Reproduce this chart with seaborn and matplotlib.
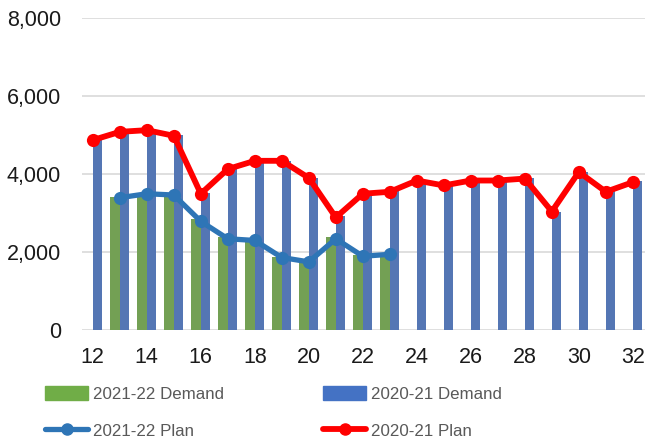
"""Weekly demand vs plan, 2020-21 and 2021-22"""

import pandas as pd
import numpy as np
import matplotlib
matplotlib.use('Agg')
import matplotlib.pyplot as plt
import seaborn as sns
from matplotlib.patches import Patch
from matplotlib.lines import Line2D

# Data
weeks = list(range(12, 33))
demand_2021_22 = [np.nan, 3410, 3450, 3410, 2845, 2380, 2253, 1873, 1706, 2380, 1916, 1916,
                  np.nan, np.nan, np.nan, np.nan, np.nan, np.nan, np.nan, np.nan, np.nan]
demand_2020_21 = [4900, 5080, 5120, 4990, 3519, 4119, 4290, 4330, 3899, 2929, 3435, 3562,
                  3772, 3689, 3772, 3850, 3899, 3013, 4051, 3562, 3815]
plan_2021_22 = [np.nan, 3392, 3494, 3461, 2785, 2339, 2296, 1858, 1747, 2339, 1891, 1941,
                np.nan, np.nan, np.nan, np.nan, np.nan, np.nan, np.nan, np.nan, np.nan]
plan_2020_21 = [4870, 5081, 5124, 4980, 3494, 4127, 4338, 4338, 3899, 2886, 3494, 3544,
                3833, 3706, 3833, 3833, 3883, 3038, 4051, 3544, 3790]
xtick_labels = list(range(12, 33, 2))
ytick_values = [0, 2000, 4000, 6000, 8000]

GREEN = '#70AD47'
BLUE_BAR = '#4472C4'
BLUE_LINE = '#2E75B6'
RED = '#FF0000'
GRID = '#D9D9D9'

sns.set_theme(style='white')
plt.rcParams['font.family'] = ['Liberation Sans', 'DejaVu Sans']

# Long table for the bars
bars = pd.DataFrame({
    'week': weeks * 2,
    'value': demand_2021_22 + demand_2020_21,
    'series': ['2021-22 Demand'] * len(weeks) + ['2020-21 Demand'] * len(weeks),
})
lines = pd.DataFrame({
    'week': weeks,
    'plan_2021_22': plan_2021_22,
    'plan_2020_21': plan_2020_21,
})

fig = plt.figure(figsize=(6.47, 4.40), dpi=100)
ax = fig.add_axes([82 / 647, 110 / 440, 563 / 647, 312 / 440])

# Grid behind everything
for v in ytick_values:
    ax.axhline(v, color=GRID, lw=1.2, zorder=0)

sns.barplot(
    data=bars, x='week', y='value', hue='series',
    hue_order=['2021-22 Demand', '2020-21 Demand'],
    palette=[GREEN, BLUE_BAR], native_scale=True, width=0.7,
    dodge=True, errorbar=None, linewidth=0, legend=False, ax=ax, zorder=2,
)

sns.lineplot(data=lines, x='week', y='plan_2021_22', color=BLUE_LINE, lw=3.8,
             marker='o', markersize=9.5, markeredgewidth=0, ax=ax, zorder=3)
sns.lineplot(data=lines, x='week', y='plan_2020_21', color=RED, lw=4.2,
             marker='o', markersize=9.5, markeredgewidth=0, ax=ax, zorder=4)

ax.set_xlim(11.6, 32.45)
ax.set_ylim(0, 8000)
ax.set_xticks(xtick_labels)
ax.set_xticklabels([str(w) for w in xtick_labels])
ax.set_yticks(ytick_values)
ax.set_yticklabels([f'{v:,}' for v in ytick_values])
ax.set_xlabel('')
ax.set_ylabel('')
ax.tick_params(axis='both', length=0, labelsize=15.5, colors='#1a1a1a')
ax.tick_params(axis='y', pad=15)
ax.tick_params(axis='x', pad=12)
for side in ['top', 'right', 'left', 'bottom']:
    ax.spines[side].set_visible(False)

# Legend below the plot, two columns
handles = [
    Patch(color=GREEN),
    Line2D([0], [0], color=BLUE_LINE, lw=3.8, marker='o', markersize=8),
    Patch(color=BLUE_BAR),
    Line2D([0], [0], color=RED, lw=4.2, marker='o', markersize=8),
]
labels = ['2021-22 Demand', '2021-22 Plan', '2020-21 Demand', '2020-21 Plan']
legend_size = 12.2
em = legend_size * 100 / 72
leg = fig.legend(
    handles, labels, ncol=2, loc='upper left',
    bbox_to_anchor=(45 / 647, 1 - 386 / 440), frameon=False,
    fontsize=legend_size, borderpad=0, borderaxespad=0, handlelength=43 / em,
    handleheight=0.9, handletextpad=5 / em, columnspacing=99 / em,
    labelspacing=21 / em,
)
for t in leg.get_texts():
    t.set_color('#595959')

fig.savefig('out.png', dpi=100)
plt.close(fig)
